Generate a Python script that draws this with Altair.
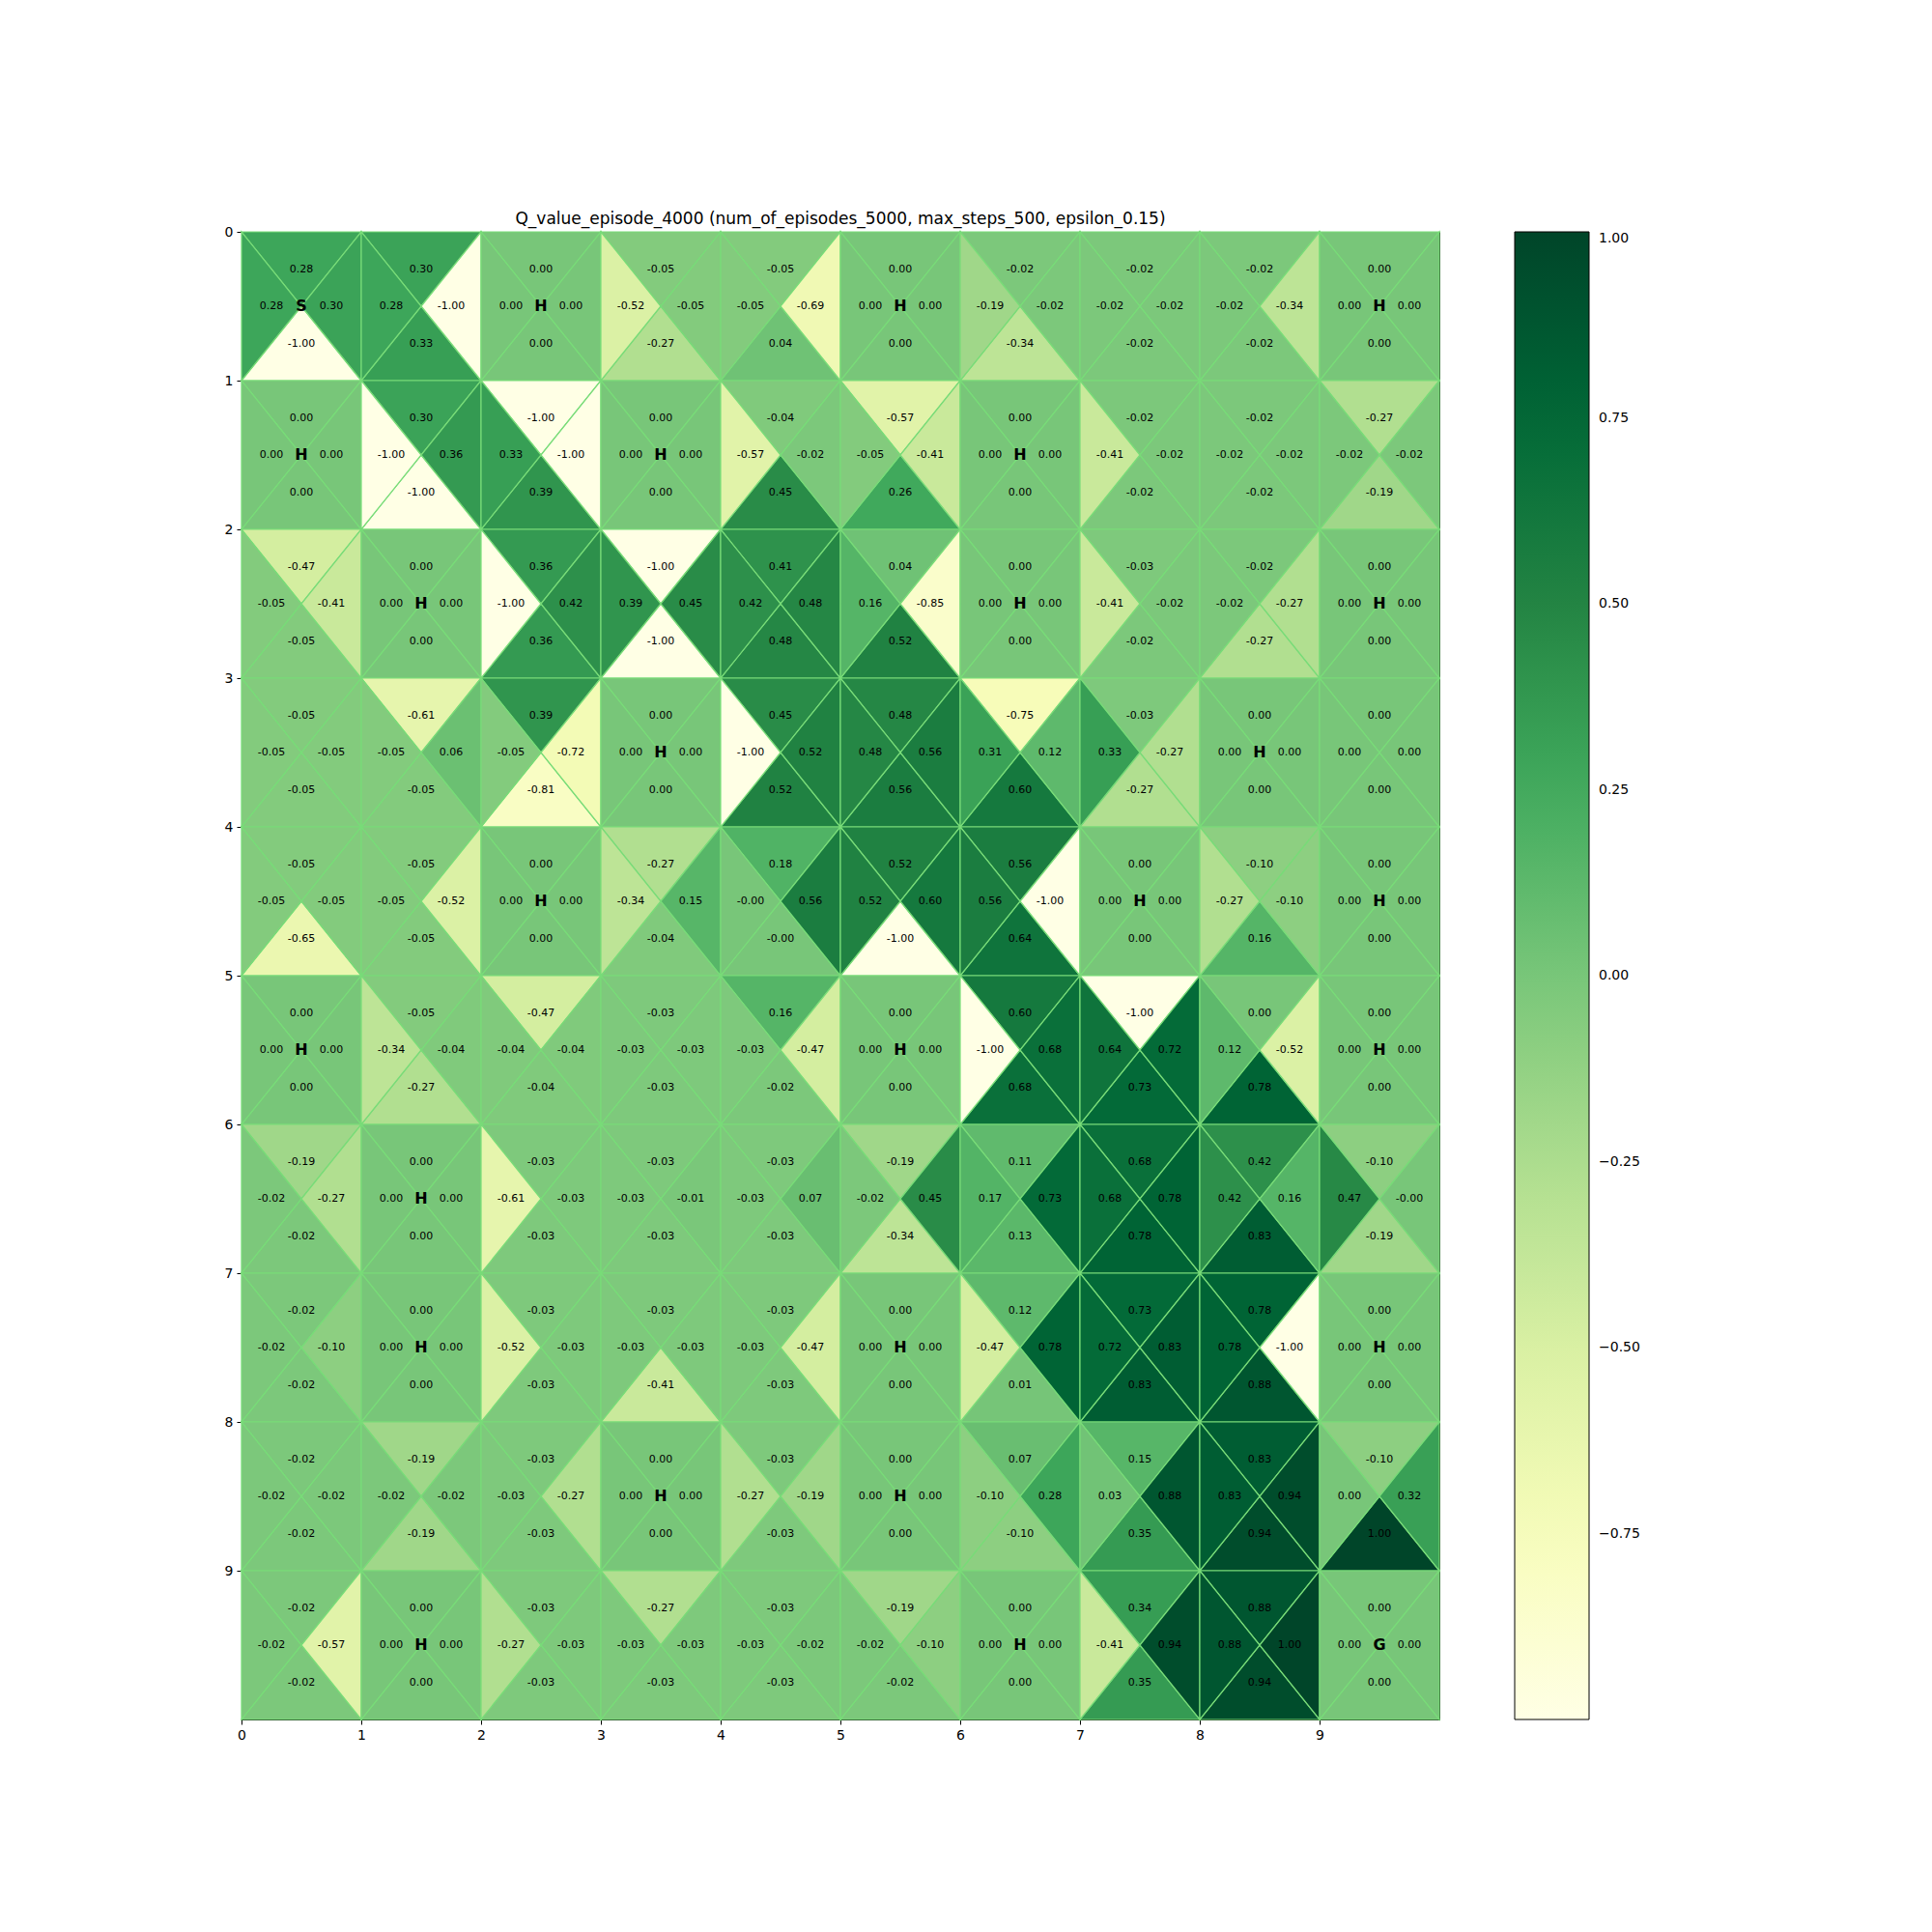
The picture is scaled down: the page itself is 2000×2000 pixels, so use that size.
import altair as alt
import pandas as pd

N = 10
TITLE = "Q_value_episode_4000 (num_of_episodes_5000, max_steps_500, epsilon_0.15)"

lake_map = [
    "SFHFFHFFFH",
    "HFFHFFHFFF",
    "FHFFFFHFFH",
    "FFFHFFFFHF",
    "FFHFFFFHFH",
    "HFFFFHFFFH",
    "FHFFFFFFFF",
    "FHFFFHFFFH",
    "FFFHFHFFFF",
    "FHFFFFHFFG",
]

q_up = [
    [0.28, 0.30, 0.00, -0.05, -0.05, 0.00, -0.02, -0.02, -0.02, 0.00],
    [0.00, 0.30, -1.00, 0.00, -0.04, -0.57, 0.00, -0.02, -0.02, -0.27],
    [-0.47, 0.00, 0.36, -1.00, 0.41, 0.04, 0.00, -0.03, -0.02, 0.00],
    [-0.05, -0.61, 0.39, 0.00, 0.45, 0.48, -0.75, -0.03, 0.00, 0.00],
    [-0.05, -0.05, 0.00, -0.27, 0.18, 0.52, 0.56, 0.00, -0.10, 0.00],
    [0.00, -0.05, -0.47, -0.03, 0.16, 0.00, 0.60, -1.00, 0.00, 0.00],
    [-0.19, 0.00, -0.03, -0.03, -0.03, -0.19, 0.11, 0.68, 0.42, -0.10],
    [-0.02, 0.00, -0.03, -0.03, -0.03, 0.00, 0.12, 0.73, 0.78, 0.00],
    [-0.02, -0.19, -0.03, 0.00, -0.03, 0.00, 0.07, 0.15, 0.83, -0.10],
    [-0.02, 0.00, -0.03, -0.27, -0.03, -0.19, 0.00, 0.34, 0.88, 0.00],
]

q_left = [
    [0.28, 0.28, 0.00, -0.52, -0.05, 0.00, -0.19, -0.02, -0.02, 0.00],
    [0.00, -1.00, 0.33, 0.00, -0.57, -0.05, 0.00, -0.41, -0.02, -0.02],
    [-0.05, 0.00, -1.00, 0.39, 0.42, 0.16, 0.00, -0.41, -0.02, 0.00],
    [-0.05, -0.05, -0.05, 0.00, -1.00, 0.48, 0.31, 0.33, 0.00, 0.00],
    [-0.05, -0.05, 0.00, -0.34, -0.0, 0.52, 0.56, 0.00, -0.27, 0.00],
    [0.00, -0.34, -0.04, -0.03, -0.03, 0.00, -1.00, 0.64, 0.12, 0.00],
    [-0.02, 0.00, -0.61, -0.03, -0.03, -0.02, 0.17, 0.68, 0.42, 0.47],
    [-0.02, 0.00, -0.52, -0.03, -0.03, 0.00, -0.47, 0.72, 0.78, 0.00],
    [-0.02, -0.02, -0.03, 0.00, -0.27, 0.00, -0.10, 0.03, 0.83, 0.00],
    [-0.02, 0.00, -0.27, -0.03, -0.03, -0.02, 0.00, -0.41, 0.88, 0.00],
]

q_right = [
    [0.30, -1.00, 0.00, -0.05, -0.69, 0.00, -0.02, -0.02, -0.34, 0.00],
    [0.00, 0.36, -1.00, 0.00, -0.02, -0.41, 0.00, -0.02, -0.02, -0.02],
    [-0.41, 0.00, 0.42, 0.45, 0.48, -0.85, 0.00, -0.02, -0.27, 0.00],
    [-0.05, 0.06, -0.72, 0.00, 0.52, 0.56, 0.12, -0.27, 0.00, 0.00],
    [-0.05, -0.52, 0.00, 0.15, 0.56, 0.60, -1.00, 0.00, -0.10, 0.00],
    [0.00, -0.04, -0.04, -0.03, -0.47, 0.00, 0.68, 0.72, -0.52, 0.00],
    [-0.27, 0.00, -0.03, -0.01, 0.07, 0.45, 0.73, 0.78, 0.16, -0.0],
    [-0.10, 0.00, -0.03, -0.03, -0.47, 0.00, 0.78, 0.83, -1.00, 0.00],
    [-0.02, -0.02, -0.27, 0.00, -0.19, 0.00, 0.28, 0.88, 0.94, 0.32],
    [-0.57, 0.00, -0.03, -0.03, -0.02, -0.10, 0.00, 0.94, 1.00, 0.00],
]

q_down = [
    [-1.00, 0.33, 0.00, -0.27, 0.04, 0.00, -0.34, -0.02, -0.02, 0.00],
    [0.00, -1.00, 0.39, 0.00, 0.45, 0.26, 0.00, -0.02, -0.02, -0.19],
    [-0.05, 0.00, 0.36, -1.00, 0.48, 0.52, 0.00, -0.02, -0.27, 0.00],
    [-0.05, -0.05, -0.81, 0.00, 0.52, 0.56, 0.60, -0.27, 0.00, 0.00],
    [-0.65, -0.05, 0.00, -0.04, -0.0, -1.00, 0.64, 0.00, 0.16, 0.00],
    [0.00, -0.27, -0.04, -0.03, -0.02, 0.00, 0.68, 0.73, 0.78, 0.00],
    [-0.02, 0.00, -0.03, -0.03, -0.03, -0.34, 0.13, 0.78, 0.83, -0.19],
    [-0.02, 0.00, -0.03, -0.41, -0.03, 0.00, 0.01, 0.83, 0.88, 0.00],
    [-0.02, -0.19, -0.03, 0.00, -0.03, 0.00, -0.10, 0.35, 0.94, 1.00],
    [-0.02, 0.00, -0.03, -0.03, -0.03, -0.02, 0.00, 0.35, 0.94, 0.00],
]

tick_values = list(range(10))
cbar_ticks = [-0.75, -0.5, -0.25, 0.0, 0.25, 0.5, 0.75, 1.0]
ylgn_stops = [-1.0, -0.75, -0.5, -0.25, 0.0, 0.25, 0.5, 0.75, 1.0]
ylgn_colors = ["#ffffe5", "#f7fcb9", "#d9f0a3", "#addd8e", "#78c679",
               "#41ab5d", "#238443", "#006837", "#004529"]

# ---- build tables ----
tri_h, tri_v, labels, letters = [], [], [], []
for r in range(N):
    for c in range(N):
        for d, vals in (("up", q_up), ("down", q_down)):
            v = vals[r][c]
            edge = r if d == "up" else r + 1
            for x, y2 in ((c, edge), (c + 0.5, r + 0.5), (c + 1, edge)):
                tri_h.append(dict(tid=f"{r}-{c}-{d}", x=x, y=edge, y2=y2, value=v))
        for d, vals in (("left", q_left), ("right", q_right)):
            v = vals[r][c]
            edge = c if d == "left" else c + 1
            for y, x2 in ((r, edge), (r + 0.5, c + 0.5), (r + 1, edge)):
                tri_v.append(dict(tid=f"{r}-{c}-{d}", y=y, x=edge, x2=x2, value=v))
        labels.append(dict(x=c + 0.5, y=r + 0.25, t=f"{q_up[r][c]:.2f}"))
        labels.append(dict(x=c + 0.5, y=r + 0.75, t=f"{q_down[r][c]:.2f}"))
        labels.append(dict(x=c + 0.25, y=r + 0.5, t=f"{q_left[r][c]:.2f}"))
        labels.append(dict(x=c + 0.75, y=r + 0.5, t=f"{q_right[r][c]:.2f}"))
        ch = lake_map[r][c]
        if ch in "SHG":
            letters.append(dict(x=c + 0.5, y=r + 0.5, t=ch))

df_h = pd.DataFrame(tri_h)
df_v = pd.DataFrame(tri_v)
df_lab = pd.DataFrame(labels)
df_let = pd.DataFrame(letters)

FONT = "DejaVu Sans"
EDGE = "#78dc78"

xs = alt.Scale(domain=[0, 10], nice=False, zero=False)
ys = alt.Scale(domain=[0, 10], nice=False, zero=False, reverse=True)
cs = alt.Scale(domain=ylgn_stops, range=ylgn_colors, interpolate="rgb")


def ax():
    return alt.Axis(values=tick_values, format="d", grid=False, labelFontSize=14, labelFont=FONT,
                    labelColor="black", tickColor="black", domainColor="black", tickSize=5,
                    tickWidth=1, domainWidth=1, labelPadding=4, title=None, labelFlush=False)


color_enc = alt.Color(
    "value:Q", scale=cs, title=None,
    legend=alt.Legend(orient="none", legendX=1318, legendY=0, direction="vertical",
                      gradientLength=1540, gradientThickness=77, values=cbar_ticks,
                      format=".2f", labelFontSize=14, labelFont=FONT, labelColor="black",
                      labelOffset=10, gradientStrokeColor="black", gradientStrokeWidth=1),
)

layer_h = alt.Chart(df_h).mark_area(stroke=EDGE, strokeWidth=1.2, opacity=1).encode(
    x=alt.X("x:Q", scale=xs, axis=ax()),
    y=alt.Y("y:Q", scale=ys, stack=None, axis=ax()),
    y2="y2:Q",
    detail="tid:N",
    color=color_enc,
)

layer_v = alt.Chart(df_v).mark_area(orient="horizontal", stroke=EDGE, strokeWidth=1.2, opacity=1).encode(
    y=alt.Y("y:Q", scale=ys, axis=ax()),
    x=alt.X("x:Q", scale=xs, stack=None, axis=ax()),
    x2="x2:Q",
    detail="tid:N",
    color=color_enc,
)

layer_lab = alt.Chart(df_lab).mark_text(font=FONT, fontSize=11, color="black",
                                        align="center", baseline="middle").encode(
    x=alt.X("x:Q", scale=xs, axis=ax()),
    y=alt.Y("y:Q", scale=ys, axis=ax()),
    text="t:N",
)

layer_let = alt.Chart(df_let).mark_text(font=FONT, fontSize=16, fontWeight="bold", color="black",
                                        align="center", baseline="middle").encode(
    x=alt.X("x:Q", scale=xs, axis=ax()),
    y=alt.Y("y:Q", scale=ys, axis=ax()),
    text="t:N",
)

chart = alt.layer(layer_h, layer_v, layer_lab, layer_let).properties(
    width=1240, height=1540,
    title=alt.TitleParams(TITLE, font=FONT, fontSize=17, fontWeight="normal", color="black",
                          anchor="middle", frame="group", offset=-3),
    autosize=alt.AutoSizeParams(type="none"),
    padding={"left": 250, "top": 240, "right": 510, "bottom": 220},
    background="white",
).configure_view(stroke="black", strokeWidth=1)

chart.save("out.html", embed_options={"renderer": "svg", "actions": False})
